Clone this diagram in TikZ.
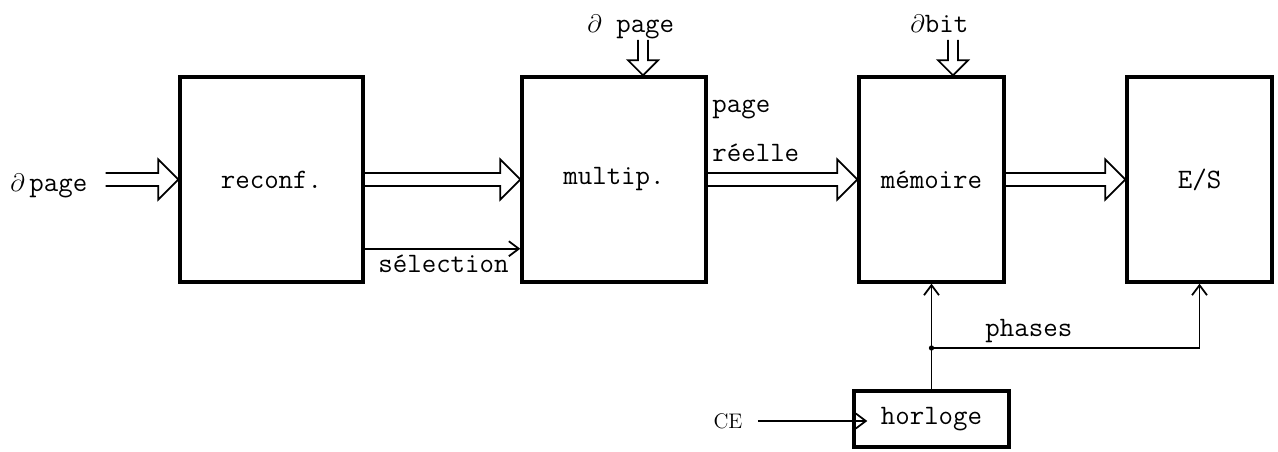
\documentclass[tikz,border=0pt]{standalone}
\usepackage{tikz}
\usetikzlibrary{arrows.meta,calc,positioning}
\newcommand{\adr}{{\fontsize{14}{16}\selectfont$\partial$}}

\begin{document}
\begin{tikzpicture}[x=0.02cm,y=-0.02cm,
    bloc/.style={draw,line width=2pt,minimum width=#1,minimum height=4.1cm,inner sep=0pt,
      font=\ttfamily\fontsize{16}{19}\selectfont},
    lbl/.style={inner sep=0pt,font=\ttfamily\fontsize{16}{19}\selectfont},
    bus/.style n args={3}{line width=1pt,line join=miter,to path={
      ($(\tikztostart)!#1!90:(\tikztotarget)$)
      -- ($(\tikztotarget)!#2!(\tikztostart)!#1!90:(\tikztotarget)$)
      -- ($(\tikztotarget)!#2!(\tikztostart)!#3!90:(\tikztotarget)$)
      -- (\tikztotarget)
      -- ($(\tikztotarget)!#2!(\tikztostart)!#3!-90:(\tikztotarget)$)
      -- ($(\tikztotarget)!#2!(\tikztostart)!#1!-90:(\tikztotarget)$)
      -- ($(\tikztostart)!#1!-90:(\tikztotarget)$)}},
    busmain/.style={bus={0.13cm}{0.4cm}{0.4cm}},
    busin/.style={bus={0.1cm}{0.3cm}{0.3cm}},
    wire/.style={line width=1pt,-{Straight Barb[length=2mm,width=3mm]}}
  ]
    \useasboundingbox (0,0) rectangle (1278,452);
    % blocs
    \node[bloc=3.66cm] (reconf) at (271.5,179.5) {reconf.};
    \node[bloc=3.68cm] (multip) at (614,179.5) {multip.};
    \node[bloc=2.9cm] (memoire) at (931.5,179.5) {mémoire};
    \node[bloc=2.9cm] (es) at (1199.5,179.5) {E/S};
    \node[bloc=3.1cm,minimum height=1.12cm] (horloge) at (931.5,419) {horloge};
    % entrees
    \node[lbl,anchor=base west] (adrin) at (10,192) {\adr\,page};
    \node[lbl,anchor=base west] (adrpage) at (587,33) {\adr\ page};
    \node[lbl,anchor=base west] (adrbit) at (910,33) {\adr bit};
    \node[font=\rmfamily\fontsize{12}{14}\selectfont,inner sep=0pt] (ce) at (728,421) {CE};
    \coordinate (adrpagebas) at (643,40);
    \coordinate (adrbitbas) at (953,40);
    % etiquettes
    \node[lbl,anchor=base west] (page) at (712,113) {page};
    \node[lbl,anchor=base west] (reelle) at (712,162) {réelle};
    \node[lbl,anchor=base west] (selection) at (378,273) {sélection};
    \node[lbl,anchor=base west] (phases) at (985,337) {phases};
    % liaisons
    \draw[busmain] ([xshift=0.36cm]adrin.east |- reconf.west) to (reconf.west);
    \draw[busmain] (reconf.east) to (multip.west);
    \draw[busmain] (multip.east) to (memoire.west);
    \draw[busmain] (memoire.east) to (es.west);
    \draw[busin] (adrpagebas) to (adrpagebas |- multip.north);
    \draw[busin] (adrbitbas) to (adrbitbas |- memoire.north);
    \draw[wire] ([yshift=0.7cm]reconf.south east) -- ([yshift=0.7cm]multip.south west);
    \draw[wire] ([xshift=0.3cm]ce.east) -- ([xshift=0.3cm]ce.east -| horloge.west);
    \draw[wire] (horloge.north) -- (memoire.south);
    \coordinate (jonction) at (horloge.north |- 0,348);
    \fill (jonction) circle (1.5pt);
    \draw[wire] (jonction) -| (es.south);
\end{tikzpicture}
\end{document}
